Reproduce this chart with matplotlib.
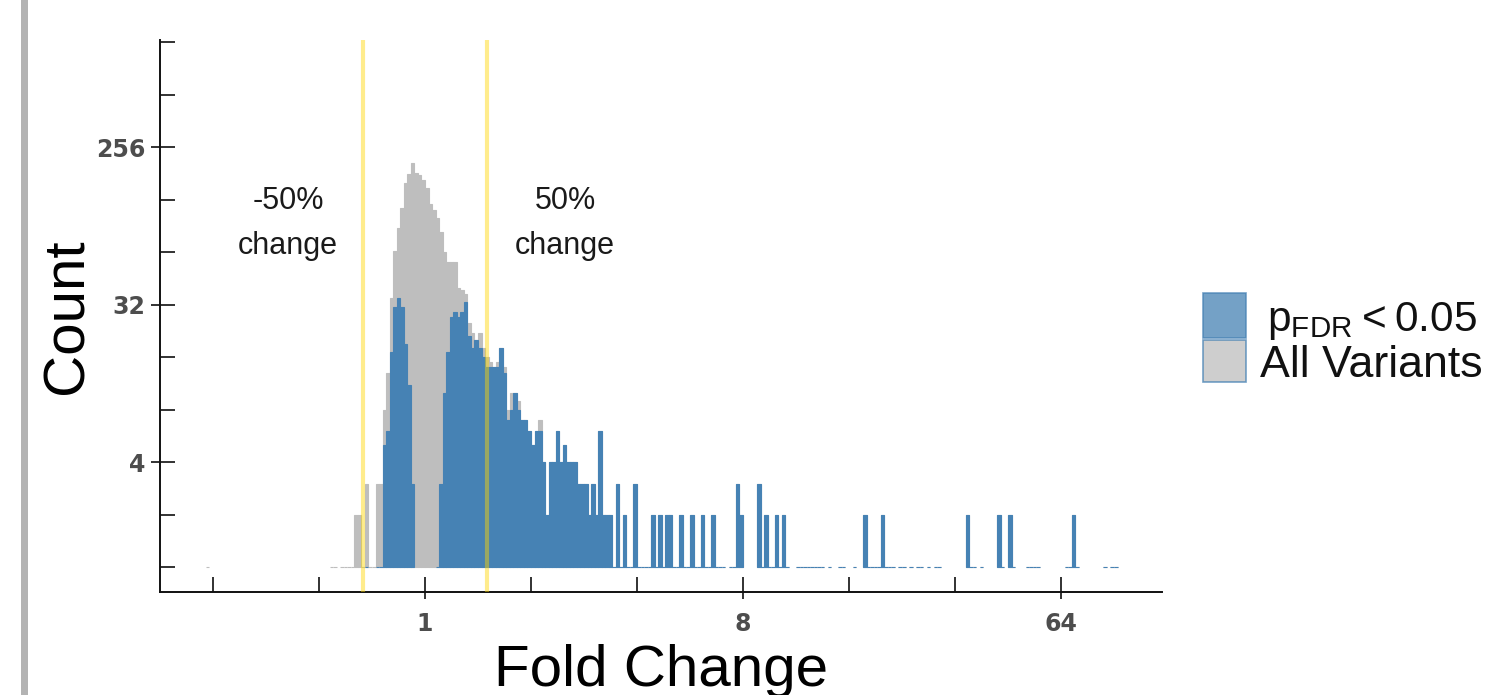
import numpy as np
import matplotlib
matplotlib.use('Agg')
import matplotlib.pyplot as plt
from matplotlib.patches import Rectangle
from matplotlib.ticker import NullFormatter

plt.rcParams['font.family'] = ['Liberation Sans', 'DejaVu Sans']
plt.rcParams['mathtext.fontset'] = 'custom'
plt.rcParams['mathtext.rm'] = 'Liberation Sans'

# histogram bins: 30 bins per doubling of fold change, bin k covers [2**(k/30), 2**((k+1)/30))
bins_per_doubling = 30
first_bin = -27

# all variants, bins -27 .. 60
all_counts = [1, 1, 0, 1, 1, 1, 1, 2, 2, 1,
              3, 1, 1, 3, 3, 8, 13, 35, 65, 88,
              115, 160, 180, 207, 182, 177, 165, 150, 120, 112,
              100, 83, 64, 56, 56, 56, 40, 39, 37, 25,
              22, 20, 22, 18, 16, 15, 14, 15, 18, 14,
              8, 10, 10, 9, 7, 7, 6, 5, 6, 7,
              4, 2, 4, 4, 6, 4, 5, 4, 4, 4,
              3, 3, 3, 2, 3, 2, 6, 2, 2, 2,
              1, 3, 1, 2, 1, 1, 3, 1]

# p_FDR < 0.05, bins -27 .. 60
sig_counts = [0, 0, 0, 0, 0, 0, 0, 0, 0, 0,
              1, 0, 0, 1, 1, 5, 6, 17, 31, 35,
              31, 19, 11, 3, 0, 0, 0, 0, 0, 0,
              1, 3, 10, 17, 27, 29, 27, 29, 33, 21,
              18, 20, 18, 16, 14, 14, 14, 14, 18, 13,
              7, 8, 10, 8, 7, 7, 6, 5, 6, 6,
              4, 2, 4, 4, 6, 4, 5, 4, 4, 4,
              3, 3, 3, 2, 3, 2, 6, 2, 2, 2,
              1, 3, 1, 2, 1, 1, 3, 1]

# sparse upper tail (same for both series)
tail_bins = [61, 62, 63, 64, 65, 66, 67, 68, 69, 70, 71, 72, 73, 74, 75, 76, 77, 78, 79, 80,
             81, 82, 83, 84, 86, 87, 88, 89, 94, 95, 96, 97, 98, 99, 100, 101, 102,
             105, 106, 107, 108, 109, 110, 111, 112, 114, 117, 118, 121,
             124, 125, 126, 127, 128, 129, 130, 131, 132, 134, 135, 137, 139, 140, 142, 144, 145,
             153, 154, 155, 157, 162, 163, 165, 166, 170, 171, 172, 173,
             181, 182, 183, 184, 192, 194, 195]
tail_counts = [1, 1, 1, 2, 1, 2, 1, 2, 2, 1, 1, 2, 1, 1, 2, 1, 1, 2, 1, 1,
               2, 1, 1, 1, 1, 1, 3, 2, 3, 1, 2, 1, 1, 2, 1, 2, 1,
               1, 1, 1, 1, 1, 1, 1, 1, 1, 1, 1, 1,
               2, 1, 1, 1, 1, 2, 1, 1, 1, 1, 1, 1, 1, 1, 1, 1, 1,
               2, 1, 1, 1, 2, 1, 2, 1, 1, 1, 1, 1,
               1, 1, 2, 1, 1, 1, 1]

# lone low outlier among all variants
low_bins = [-62]
low_counts = [1]

change_lines = [2 / 3, 1.5]
x_ticks = [1, 8, 64]
x_minor = [0.25, 0.5, 1, 2, 4, 8, 16, 32, 64]
y_ticks = [4, 32, 256]
y_minor = [1, 2, 4, 8, 16, 32, 64, 128, 256, 512, 1024]

blue = '#4682B4'
grey = '#BEBEBE'

W, H = 1490, 695
fig = plt.figure(figsize=(W / 100, H / 100), dpi=100)
ax = fig.add_axes([160 / W, (H - 592) / H, 1002 / W, 552 / H])


def draw_hist(bins, counts, color, z):
    bins = np.asarray(bins, dtype=float)
    counts = np.asarray(counts, dtype=float)
    keep = counts > 0
    lo = 2.0 ** (bins[keep] / bins_per_doubling)
    hi = 2.0 ** ((bins[keep] + 1) / bins_per_doubling)
    ax.bar(lo, counts[keep] - 1, width=hi - lo, bottom=1, align='edge',
           color=color, edgecolor=color, linewidth=0.8, zorder=z)


main_bins = np.arange(first_bin, first_bin + len(all_counts))
draw_hist(np.concatenate([low_bins, main_bins, tail_bins]),
          np.concatenate([low_counts, all_counts, tail_counts]), grey, 2)
draw_hist(np.concatenate([main_bins, tail_bins]),
          np.concatenate([sig_counts, tail_counts]), blue, 3)

for xv in change_lines:
    ax.axvline(xv, color='#FFD700', alpha=0.45, linewidth=3, zorder=4)

ax.set_xscale('log', base=2)
ax.set_yscale('log', base=2)
ax.set_xlim(2 ** -2.5, 2 ** 6.953)
ax.set_ylim(2 ** -0.476, 2 ** 10.04)

ax.xaxis.remove_overlapping_locs = False
ax.yaxis.remove_overlapping_locs = False
ax.set_xticks(x_ticks, labels=[str(v) for v in x_ticks])
ax.set_xticks(x_minor, minor=True)
ax.set_yticks(y_ticks, labels=[str(v) for v in y_ticks])
ax.set_yticks(y_minor, minor=True)
ax.xaxis.set_minor_formatter(NullFormatter())
ax.yaxis.set_minor_formatter(NullFormatter())

ax.tick_params(which='minor', direction='in', length=11, width=1.3, color='#222222')
ax.tick_params(axis='y', which='major', direction='out', length=6.5, width=1.3,
               color='#222222', pad=4)
ax.tick_params(axis='x', which='major', direction='out', length=5, width=1.3,
               color='#222222', pad=9.5)
for lab in ax.get_xticklabels() + ax.get_yticklabels():
    lab.set_family('DejaVu Sans')
    lab.set_fontweight('bold')
    lab.set_fontsize(17)
    lab.set_color('#4D4D4D')

for s in ['top', 'right']:
    ax.spines[s].set_visible(False)
for s in ['left', 'bottom']:
    ax.spines[s].set_linewidth(1.4)
    ax.spines[s].set_color('#111111')

# annotations
ax.text(0.1277, 0.7083, '-50%', transform=ax.transAxes, ha='center', va='center',
        fontsize=22, color='#1a1a1a')
ax.text(0.1277, 0.6268, 'change', transform=ax.transAxes, ha='center', va='center',
        fontsize=22, color='#1a1a1a')
ax.text(0.4042, 0.7083, '50%', transform=ax.transAxes, ha='center', va='center',
        fontsize=22, color='#1a1a1a')
ax.text(0.4042, 0.6268, 'change', transform=ax.transAxes, ha='center', va='center',
        fontsize=22, color='#1a1a1a')

# axis titles
fig.text(661 / W, (H - 686) / H, 'Fold Change', ha='center', va='baseline',
         fontsize=42, color='black')
fig.text(83 / W, (H - 316) / H, 'Count', ha='center', va='baseline', rotation=90,
         rotation_mode='anchor', fontsize=42, color='black')

# legend drawn by hand
fig.add_artist(Rectangle((1203 / W, (H - 338) / H), 43 / W, 45 / H, transform=fig.transFigure,
                         facecolor=blue, alpha=0.75, edgecolor=blue, linewidth=1.2))
fig.add_artist(Rectangle((1203 / W, (H - 382) / H), 43 / W, 42 / H, transform=fig.transFigure,
                         facecolor=grey, alpha=0.75, edgecolor=blue, linewidth=1.2))
fig.text(1267 / W, (H - 331) / H, r'$\mathregular{p_{FDR} < 0.05}$', ha='left', va='baseline',
         fontsize=30.5, color='#111111')
fig.text(1260 / W, (H - 377) / H, 'All Variants', ha='left', va='baseline',
         fontsize=32.2, color='#111111')

# grey frame edge on the left
fig.add_artist(Rectangle((21 / W, 0), 7 / W, 1, transform=fig.transFigure,
                         facecolor='#B3B3B3', edgecolor='none'))

fig.savefig('out.png', dpi=100)
